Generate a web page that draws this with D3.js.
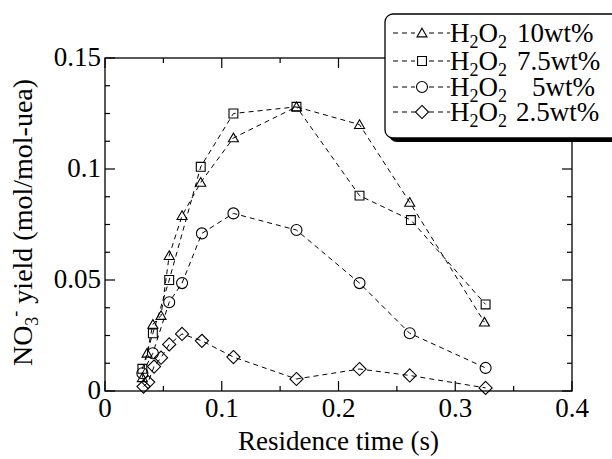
<!DOCTYPE html>
<html>
<head>
<meta charset="utf-8">
<script src="https://cdn.jsdelivr.net/npm/d3@7"></script>
</head>
<body style="margin:0">
<svg id="c" width="612" height="459"></svg>
<script>

// residence time (s) / NO3- yield (mol/mol-urea), one pair per H2O2 level
var aTime10 = [0.032, 0.036, 0.041, 0.048, 0.055, 0.066, 0.082, 0.110, 0.164, 0.218, 0.261, 0.325];
var aYield10 = [0.006, 0.017, 0.030, 0.034, 0.061, 0.079, 0.094, 0.114, 0.128, 0.120, 0.085, 0.031];

var aTime75 = [0.032, 0.041, 0.055, 0.082, 0.110, 0.164, 0.218, 0.262, 0.326];
var aYield75 = [0.010, 0.026, 0.050, 0.101, 0.125, 0.128, 0.088, 0.077, 0.039];

var aTime5 = [0.032, 0.041, 0.055, 0.066, 0.083, 0.110, 0.164, 0.218, 0.261, 0.326];
var aYield5 = [0.008, 0.017, 0.040, 0.0486, 0.071, 0.080, 0.0725, 0.0486, 0.026, 0.0104];

var aTime25 = [0.033, 0.037, 0.042, 0.048, 0.055, 0.066, 0.083, 0.110, 0.164, 0.218, 0.261, 0.326];
var aYield25 = [0.002, 0.004, 0.011, 0.015, 0.021, 0.0257, 0.0226, 0.0153, 0.0054, 0.0099, 0.007, 0.0014];

var aSeriesNames = ['10wt%', '7.5wt%', '5wt%', '2.5wt%'];
var aSeriesSymbols = ['triangle', 'square', 'circle', 'diamond'];

var aTicksX = [0, 0.1, 0.2, 0.3, 0.4];
var aMinorTicksX = [0.05, 0.15, 0.25, 0.35];
var aTicksY = [0, 0.05, 0.1, 0.15];
var aTickLabelsY = ['0', '0.05', '0.1', '0.15'];
var aMinorTicksY = [0.0125, 0.025, 0.0375, 0.0625, 0.075, 0.0875, 0.1125, 0.125, 0.1375];

var s = d3.select('#c');

var nLeft = 105;
var nTop = 58;
var nWidth = 467;
var nHeight = 333;

var scaleX = d3.scaleLinear().domain([0, 0.4]).range([0, nWidth]);
var scaleY = d3.scaleLinear().domain([0, 0.15]).range([nHeight, 0]);

function AddText(sParent, strText, nSize)
{
	var sText = sParent.append('text')
		.attr('font-size', nSize)
		.style('font-family', '"Times New Roman"');
	if (strText != null)
	{
		sText.text(strText);
	}
	return sText;
}

var sChart = s.append('g')
	.attr('transform', 'translate(' + nLeft + ',' + nTop + ')');

function DrawTicks(aValues, nLen, strSide)
{
	aValues.forEach(function(f)
	{
		if (strSide == 'x')
		{
			var nX = scaleX(f);
			sChart.append('line').attr('x1', nX).attr('x2', nX).attr('y1', nHeight).attr('y2', nHeight - nLen)
				.attr('stroke', '#000').attr('stroke-width', 1.2);
			sChart.append('line').attr('x1', nX).attr('x2', nX).attr('y1', 0).attr('y2', nLen)
				.attr('stroke', '#000').attr('stroke-width', 1.2);
		}
		else
		{
			var nY = scaleY(f);
			sChart.append('line').attr('x1', 0).attr('x2', nLen).attr('y1', nY).attr('y2', nY)
				.attr('stroke', '#000').attr('stroke-width', 1.2);
			sChart.append('line').attr('x1', nWidth).attr('x2', nWidth - nLen).attr('y1', nY).attr('y2', nY)
				.attr('stroke', '#000').attr('stroke-width', 1.2);
		}
	});
}

DrawTicks(aTicksX, 10, 'x');
DrawTicks(aMinorTicksX, 5, 'x');
DrawTicks(aTicksY, 10, 'y');
DrawTicks(aMinorTicksY, 5, 'y');

aTicksX.forEach(function(f)
{
	AddText(sChart, f == 0 ? '0' : d3.format('.1f')(f), 27)
		.attr('x', scaleX(f))
		.attr('y', nHeight + 26)
		.attr('text-anchor', 'middle');
});

aTicksY.forEach(function(f, i)
{
	AddText(sChart, aTickLabelsY[i], 27)
		.attr('x', -4)
		.attr('y', scaleY(f) + 8)
		.attr('text-anchor', 'end');
});

sChart.append('rect')
	.attr('width', nWidth)
	.attr('height', nHeight)
	.attr('fill', 'none')
	.attr('stroke', '#000')
	.attr('stroke-width', 1.3);

// series
var aSeries = [
	{ name: aSeriesNames[0], symbol: aSeriesSymbols[0], x: aTime10, y: aYield10 },
	{ name: aSeriesNames[1], symbol: aSeriesSymbols[1], x: aTime75, y: aYield75 },
	{ name: aSeriesNames[2], symbol: aSeriesSymbols[2], x: aTime5, y: aYield5 },
	{ name: aSeriesNames[3], symbol: aSeriesSymbols[3], x: aTime25, y: aYield25 }
];

var oSymbolTypes = {
	triangle: { type: d3.symbolTriangle2, size: 72 },
	square: { type: d3.symbolSquare2, size: 100 },
	circle: { type: d3.symbolCircle, size: 95 },
	diamond: { type: d3.symbolDiamond2, size: 110 }
};

function SymbolPath(strSymbol)
{
	var oS = oSymbolTypes[strSymbol];
	return d3.symbol().type(oS.type).size(oS.size)();
}

var fnLine = d3.line()
	.x(function(d) { return scaleX(d[0]); })
	.y(function(d) { return scaleY(d[1]); });

aSeries.forEach(function(oSeries)
{
	var aPoints = oSeries.x.map(function(f, i) { return [f, oSeries.y[i]]; });

	sChart.append('path')
		.datum(aPoints)
		.attr('d', fnLine)
		.attr('fill', 'none')
		.attr('stroke', '#000')
		.attr('stroke-width', 1)
		.attr('stroke-dasharray', '5,4');

	sChart.selectAll(null)
		.data(aPoints)
		.enter()
		.append('path')
			.attr('transform', function(d)
				{
					var nY = scaleY(d[1]);
					if (oSeries.symbol == 'triangle') nY += 1;
					return 'translate(' + scaleX(d[0]) + ',' + nY + ')';
				})
			.attr('d', SymbolPath(oSeries.symbol))
			.attr('fill', 'none')
			.attr('stroke', '#000')
			.attr('stroke-width', 1.1);
});

// axis titles
AddText(s, 'Residence time (s)', 27)
	.attr('x', nLeft + nWidth / 2)
	.attr('y', 450)
	.attr('text-anchor', 'middle');

var sTitleY = AddText(s, null, 28)
	.attr('transform', 'translate(32,' + (nTop + nHeight / 2 - 2) + ') rotate(-90)')
	.attr('text-anchor', 'middle');
sTitleY.append('tspan').text('NO');
sTitleY.append('tspan').attr('font-size', 18).attr('dy', 6).text('3');
sTitleY.append('tspan').attr('font-size', 18).attr('dy', -17).text('-');
sTitleY.append('tspan').attr('dy', 11).text(' yield (mol/mol-uea)');

// legend
var nLegX = 385;
var nLegY = 14;
var sLegend = s.append('g');

sLegend.append('rect')
	.attr('x', nLegX + 4)
	.attr('y', nLegY + 4)
	.attr('width', 260)
	.attr('height', 124)
	.attr('rx', 8)
	.attr('fill', '#000');
sLegend.append('rect')
	.attr('x', nLegX)
	.attr('y', nLegY)
	.attr('width', 260)
	.attr('height', 124)
	.attr('rx', 8)
	.attr('fill', '#fff')
	.attr('stroke', '#000')
	.attr('stroke-width', 1.3);

var aLegRowY = [33, 61, 87, 112];
var aLegNumX = [517, 517, 532, 516];

aSeries.forEach(function(oSeries, i)
{
	var nY = aLegRowY[i];
	sLegend.append('line')
		.attr('x1', 393)
		.attr('x2', 450)
		.attr('y1', nY)
		.attr('y2', nY)
		.attr('stroke', '#000')
		.attr('stroke-width', 1)
		.attr('stroke-dasharray', '5,4');
	sLegend.append('rect')
		.attr('x', 415)
		.attr('y', nY - 7)
		.attr('width', 14)
		.attr('height', 14)
		.attr('fill', '#fff');
	sLegend.append('path')
		.attr('transform', 'translate(422,' + (nY + (oSeries.symbol == 'triangle' ? 1 : 0)) + ')')
		.attr('d', SymbolPath(oSeries.symbol))
		.attr('fill', 'none')
		.attr('stroke', '#000')
		.attr('stroke-width', 1.1);

	var sText = AddText(sLegend, null, 27)
		.attr('y', nY + 9);
	sText.append('tspan').attr('x', 450).text('H');
	sText.append('tspan').attr('font-size', 18).attr('dy', 6).text('2');
	sText.append('tspan').attr('dy', -6).text('O');
	sText.append('tspan').attr('font-size', 18).attr('dy', 6).text('2');

	AddText(sLegend, oSeries.name, 27)
		.attr('x', aLegNumX[i])
		.attr('y', nY + 9);
});

</script>
</body>
</html>
